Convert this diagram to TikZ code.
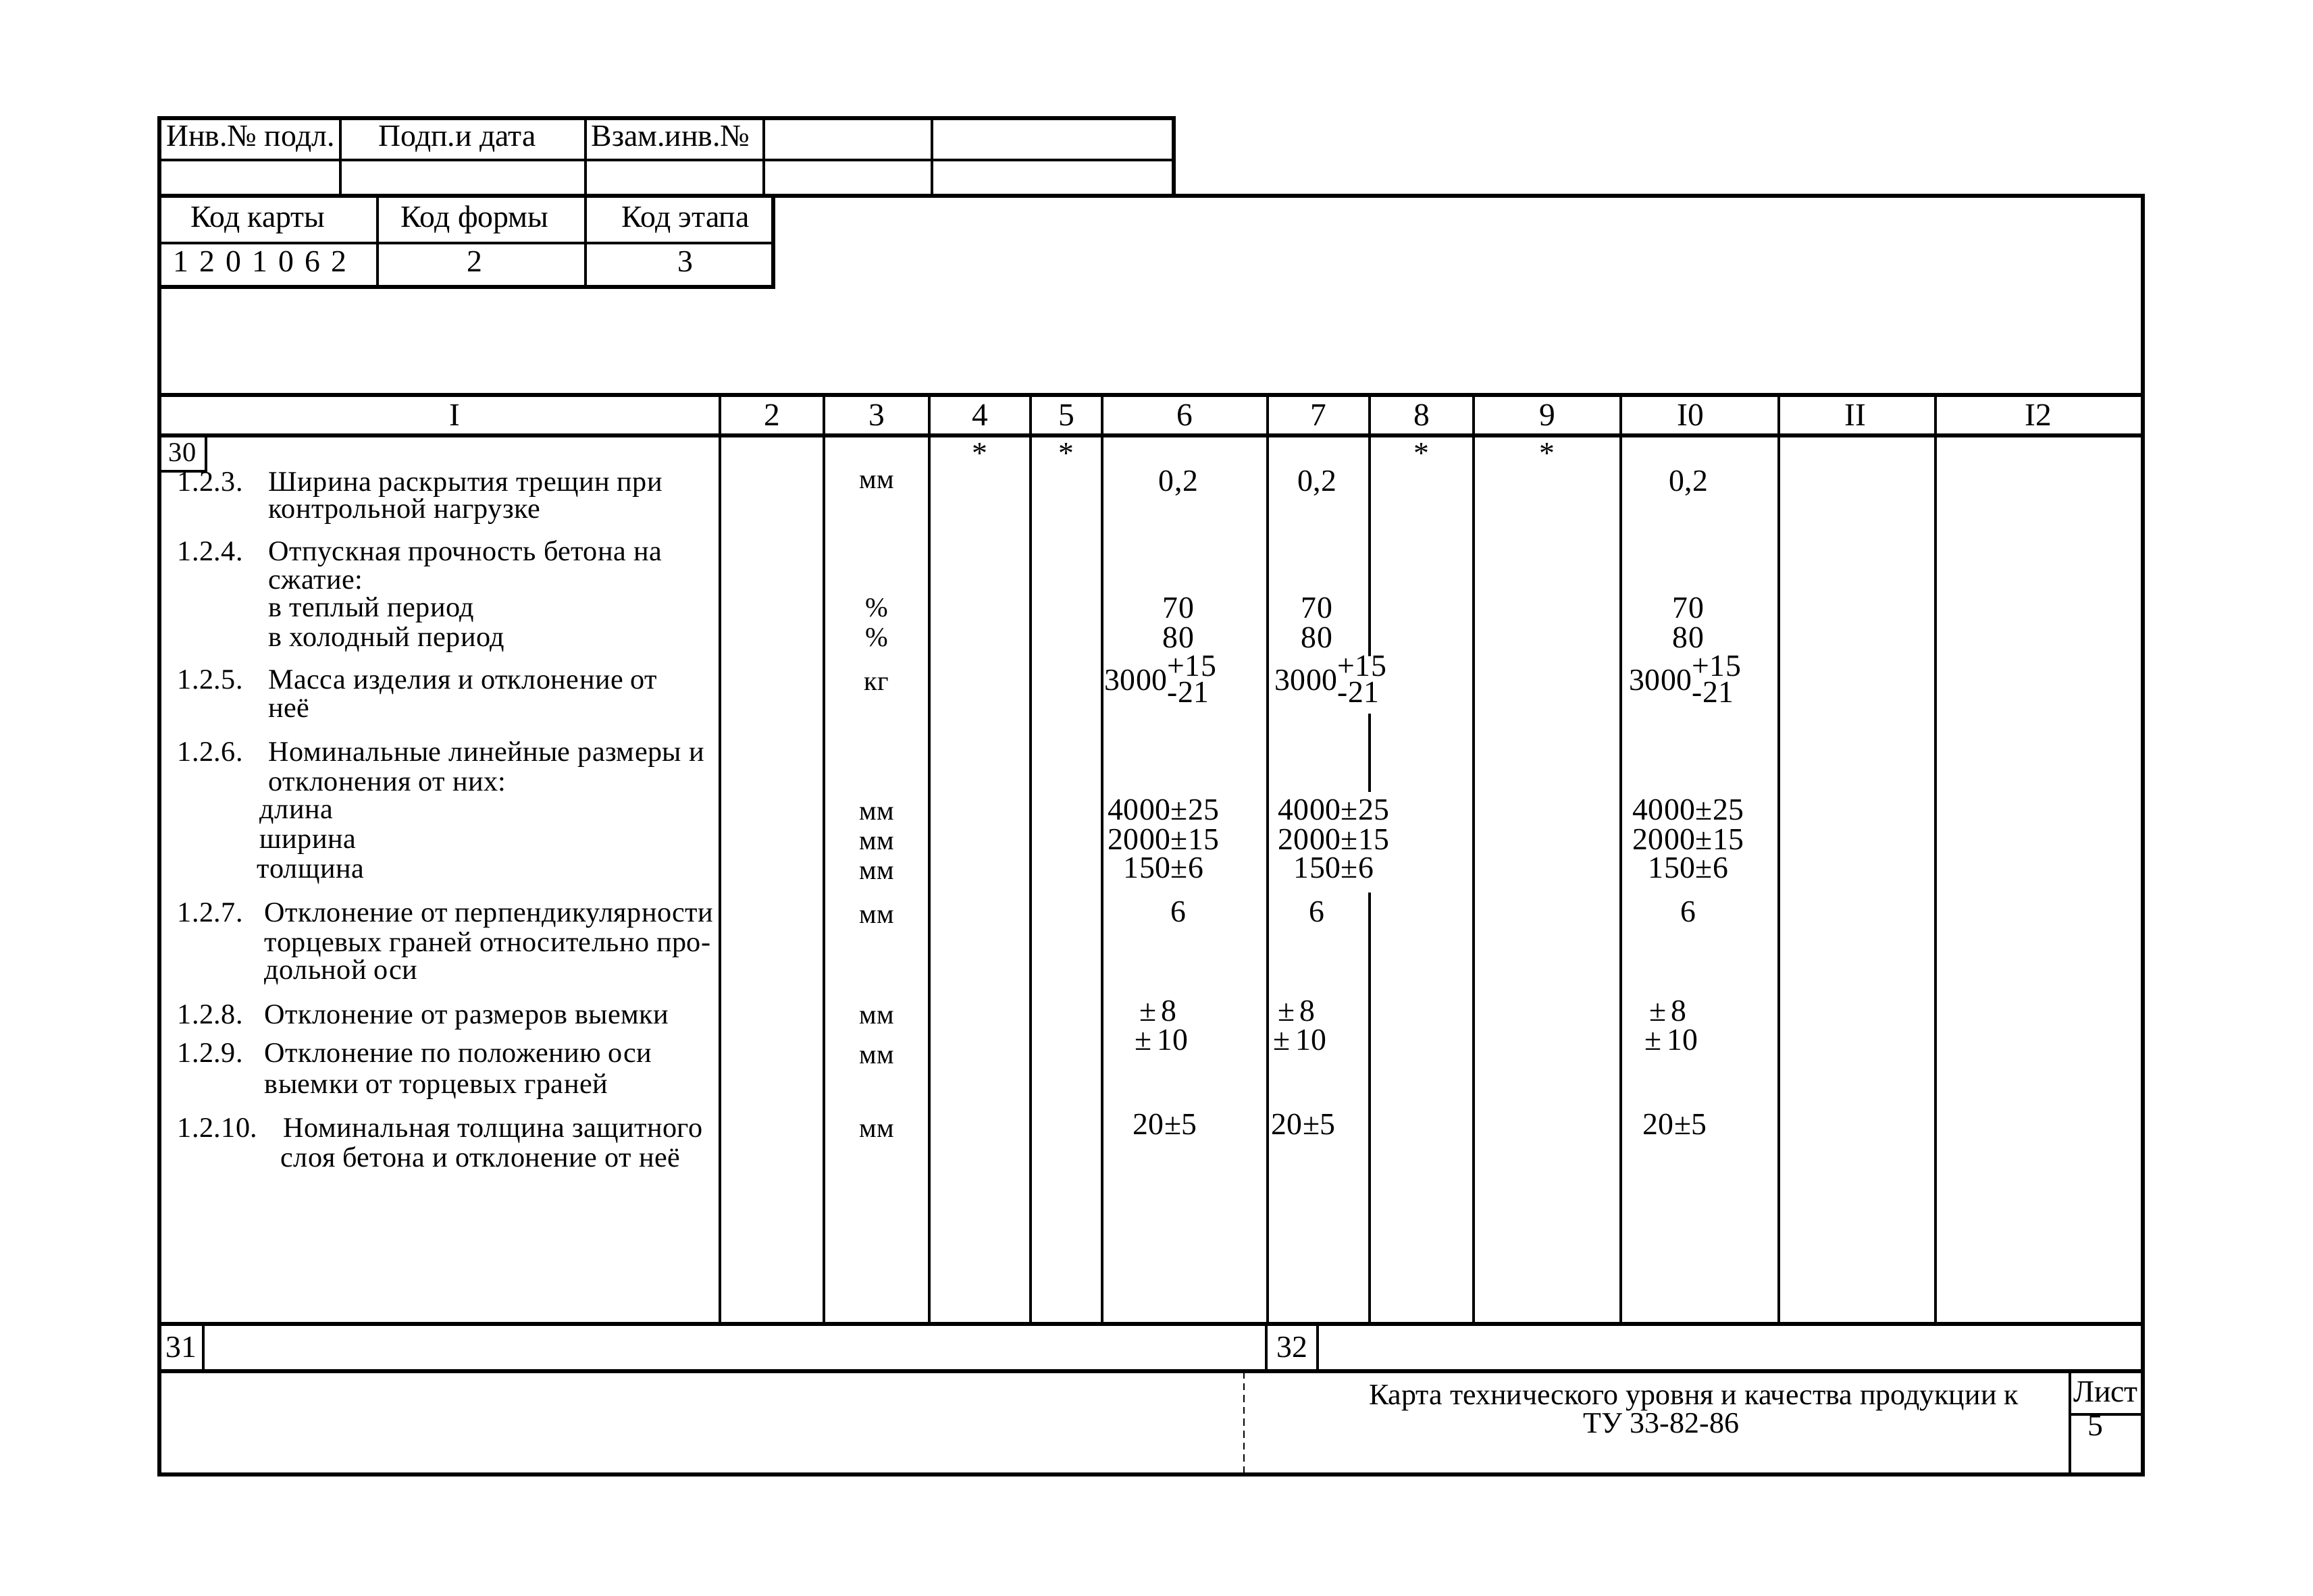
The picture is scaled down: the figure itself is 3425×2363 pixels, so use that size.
\documentclass[tikz,border=0pt]{standalone}
\usepackage{fontspec}
\setmainfont{Liberation Serif}
\newfontfamily\typew[LetterSpace=1]{Liberation Serif}
\usetikzlibrary{positioning}

\newcommand{\tol}[3]{#1\makebox[0pt][l]{\raisebox{1.0ex}{#2}}\raisebox{-0.9ex}{#3}}

\tikzset{
  frame/.style={line width=1.8pt},
  rule/.style={line width=1.2pt},
  txt/.style={anchor=base west, inner sep=0pt, font=\typew\fontsize{12}{14}\selectfont},
  unit/.style={anchor=base, inner sep=0pt, font=\typew\fontsize{11.5}{14}\selectfont},
  val/.style={anchor=base, inner sep=0pt, font=\typew\fontsize{13}{15}\selectfont},
  head/.style={anchor=base, inner sep=0pt, font=\fontsize{13.5}{15}\selectfont},
  stamp/.style={anchor=base, inner sep=0pt, font=\fontsize{13}{15}\selectfont}
}

\begin{document}
\begin{tikzpicture}[x=0.01cm, y=-0.01cm]
  \useasboundingbox (0,0) rectangle (3425,2363);

  % stamp at the top
  \draw[frame] (236,175) rectangle (1738,290);
  \draw[rule] (236,237) -- (1738,237);
  \foreach \x in {504,867,1131,1380} \draw[rule] (\x,175) -- (\x,290);
  \path (371,216) node[stamp] (inv) {Инв.№ подл.}
        (677,216) node[stamp] (podp) {Подп.и дата}
        (993,216) node[stamp] (vzam) {Взам.инв.№};

  \draw[frame] (236,290) rectangle (1145,425);
  \draw[rule] (236,360) -- (1145,360);
  \foreach \x in {559,867} \draw[rule] (\x,290) -- (\x,425);
  \path (382,336) node[stamp] (kkarty) {Код карты}
        (703,336) node[stamp] (kformy) {Код формы}
        (1015,336) node[stamp] (ketapa) {Код этапа}
        (385,402) node[stamp] (vkarty) {1\hspace{0.35em}2\hspace{0.35em}0\hspace{0.35em}1\hspace{0.35em}0\hspace{0.35em}6\hspace{0.35em}2}
        (703,402) node[stamp] (vformy) {2}
        (1015,402) node[stamp] (vetapa) {3};

  % frame and table
  \draw[frame] (236,175) -- (236,2184) -- (3173,2184) -- (3173,290) -- (236,290);
  \foreach \y in {585,645,1961,2031} \draw[frame] (236,\y) -- (3173,\y);
  \foreach \x in {1066,1220,1376,1526,1632,1877,2182,2400,2634,2866}
    \draw[rule] (\x,585) -- (\x,1961);
  % line between 7 and 8, broken where the values run over it
  \draw[rule] (2028,585) -- (2028,972) (2028,1057) -- (2028,1173) (2028,1322) -- (2028,1961);

  \foreach \t/\x in {I/673,2/1143,3/1298,4/1451,5/1579,6/1754,7/1952,8/2105,9/2291,I0/2503,II/2747,I2/3018}
    \node[head] (h\t) at (\x,630) {\t};
  \foreach \x [count=\i] in {1451,1579,2105,2291}
    \node[val, anchor=center] (star\i) at (\x,672) {*};

  \draw[rule] (236,698) -- (305,698) -- (305,645);
  \node[stamp, anchor=center, font=\fontsize{11.5}{13}\selectfont] (b30) at (270,670) {30};

  % column 1
  \path (262,727) node[txt] (p3) {1.2.3.}
        (262,830) node[txt] (p4) {1.2.4.}
        (262,1020) node[txt] (p5) {1.2.5.}
        (262,1127) node[txt] (p6) {1.2.6.}
        (262,1365) node[txt] (p7) {1.2.7.}
        (262,1516) node[txt] (p8) {1.2.8.}
        (262,1573) node[txt] (p9) {1.2.9.}
        (262,1684) node[txt] (p10) {1.2.10.};
  \path (397,727) node[txt] (t3a) {Ширина раскрытия трещин при}
        (397,767) node[txt] (t3b) {контрольной нагрузке}
        (397,830) node[txt] (t4a) {Отпускная прочность бетона на}
        (397,872) node[txt] (t4b) {сжатие:}
        (397,913) node[txt] (t4c) {в теплый период}
        (397,957) node[txt] (t4d) {в холодный период}
        (397,1020) node[txt] (t5a) {Масса изделия и отклонение от}
        (397,1062) node[txt] (t5b) {неё}
        (397,1127) node[txt] (t6a) {Номинальные линейные размеры и}
        (397,1171) node[txt] (t6b) {отклонения от них:}
        (384,1212) node[txt] (t6c) {длина}
        (384,1256) node[txt] (t6d) {ширина}
        (380,1300) node[txt] (t6e) {толщина}
        (391,1365) node[txt] (t7a) {Отклонение от перпендикулярности}
        (391,1409) node[txt] (t7b) {торцевых граней относительно про-}
        (391,1450) node[txt] (t7c) {дольной оси}
        (391,1516) node[txt] (t8a) {Отклонение от размеров выемки}
        (391,1573) node[txt] (t9a) {Отклонение по положению оси}
        (391,1619) node[txt] (t9b) {выемки от торцевых граней}
        (419,1684) node[txt] (t10a) {Номинальная толщина защитного}
        (415,1728) node[txt] (t10b) {слоя бетона и отклонение от неё};

  % column 3
  \foreach \u/\y [count=\i] in {мм/723,\%/913,\%/957,кг/1022,мм/1214,мм/1258,мм/1302,мм/1367,мм/1516,мм/1575,мм/1684}
    \node[unit] (u\i) at (1298,\y) {\u};

  % columns 6, 7, 10
  \foreach \c/\x/\o in {6/1745/-22,7/1950/25,10/2500/0} {
    \node[val] (a\c) at (\x,727) {0,2};
    \node[val] (b\c) at (\x,915) {70};
    \node[val] (c\c) at (\x,959) {80};
    \node[val] (d\c) at ({\x+\o-10},1022) {\tol{3000}{+15}{-21}};
    \node[val] (e\c) at ({\x+\o},1214) {4000\textpm25};
    \node[val] (f\c) at ({\x+\o},1258) {2000\textpm15};
    \node[val] (g\c) at ({\x+\o},1300) {150\textpm6};
    \node[val] (k\c) at (\x,1365) {6};
    \node[val] (m\c) at ({\x-30},1512) {\textpm\,8};
    \node[val] (n\c) at ({\x-25},1555) {\textpm\,10};
    \node[val] (q\c) at ({\x-20},1680) {20\textpm5};
  }

  % bottom rows
  \draw[rule] (301,1961) -- (301,2031);
  \draw[rule] (1875,1961) -- (1875,2031);
  \draw[rule] (1951,1961) -- (1951,2031);
  \node[stamp, anchor=center] (b31) at (268,1996) {31};
  \node[stamp, anchor=center] (b32) at (1913,1996) {32};

  \draw[thin, densely dashed] (1842,2031) -- (1842,2184);
  \draw[rule] (3065,2031) -- (3065,2184);
  \draw[rule] (3065,2095) -- (3173,2095);
  \node[stamp] (list) at (3118,2076) {Лист};
  \node[stamp] (listno) at (3103,2126) {5};
  \node[stamp, font=\fontsize{12.5}{15}\selectfont] (title1) at (2508,2080) {Карта технического уровня и качества продукции к};
  \node[stamp, font=\fontsize{12.5}{15}\selectfont] (title2) at (2460,2122) {ТУ 33-82-86};
\end{tikzpicture}
\end{document}
